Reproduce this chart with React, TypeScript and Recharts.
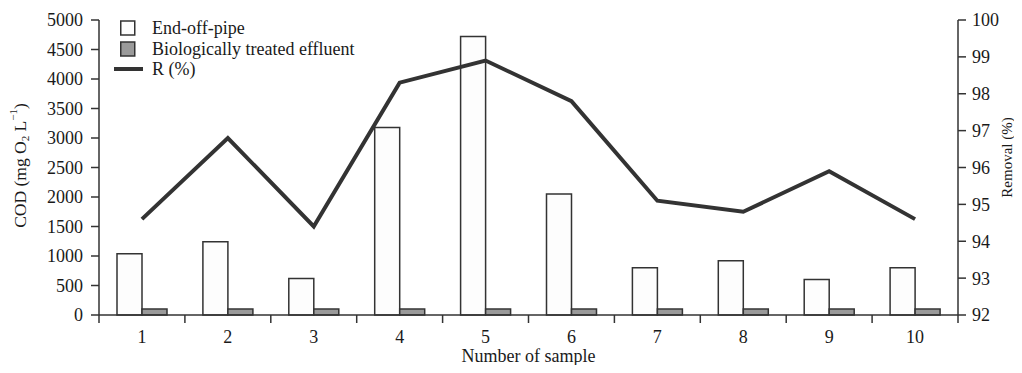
import React from 'react';
import { ComposedChart, Bar, Line, XAxis, YAxis, Legend } from 'recharts';

const categories = ['1', '2', '3', '4', '5', '6', '7', '8', '9', '10'];
const endOfPipe = [1040, 1240, 620, 3180, 4720, 2050, 800, 920, 600, 800];
const bioTreated = [100, 100, 100, 100, 100, 100, 100, 100, 100, 100];
const removal = [94.6, 96.8, 94.4, 98.3, 98.9, 97.8, 95.1, 94.8, 95.9, 94.6];
const codTicks = [0, 500, 1000, 1500, 2000, 2500, 3000, 3500, 4000, 4500, 5000];
const removalTicks = [92, 93, 94, 95, 96, 97, 98, 99, 100];

const data = categories.map((c, i) => ({
  sample: c,
  end: endOfPipe[i],
  bio: bioTreated[i],
  r: removal[i],
}));

// chart is pulled 8px left over the body margin so it can use the full window width
const W = 1022;
const H = 357;
const MARGIN = { top: 12, right: 0, bottom: 0, left: 29 };
const LEFT_W = 70;
const RIGHT_W = 64;
const plotWidth = W - MARGIN.left - MARGIN.right - LEFT_W - RIGHT_W;
const bandWidth = plotWidth / categories.length;

const FONT = '"Liberation Serif", "DejaVu Serif", serif';
const INK = '#333333';
const TEXT = '#1a1a1a';

// x tick: label under the band centre, tick marks on band boundaries
const SampleTick = (props: any) => {
  const { x, y, payload, index } = props;
  const last = index === categories.length - 1;
  return (
    <g>
      <line x1={x - bandWidth / 2} y1={y} x2={x - bandWidth / 2} y2={y + 8} stroke={INK} strokeWidth={1.5} />
      {last && (
        <line x1={x + bandWidth / 2} y1={y} x2={x + bandWidth / 2} y2={y + 8} stroke={INK} strokeWidth={1.5} />
      )}
      <text x={x} y={y + 22} dy="0.355em" textAnchor="middle" fontSize={18} fill={TEXT} fontFamily={FONT}>
        {payload.value}
      </text>
    </g>
  );
};

const CodLabel = (props: any) => {
  const vb = props.viewBox || { x: 29, y: 12, width: 70, height: 295 };
  const cx = vb.x - 9;
  const cy = vb.y + vb.height / 2 - 2;
  return (
    <text
      x={cx}
      y={cy}
      transform={`rotate(-90, ${cx}, ${cy})`}
      textAnchor="middle"
      dominantBaseline="central"
      fontSize={17.5}
      fill={TEXT}
      fontFamily={FONT}
    >
      COD (mg O<tspan fontSize={11} dy={5}>2</tspan>
      <tspan dy={-5}> L</tspan>
      <tspan fontSize={11} dy={-7}>−1</tspan>
      <tspan dy={7}>)</tspan>
    </text>
  );
};

const RemovalLabel = (props: any) => {
  const vb = props.viewBox || { x: 958, y: 12, width: 64, height: 295 };
  const cx = vb.x + 49;
  const cy = vb.y + vb.height / 2 - 10;
  return (
    <text
      x={cx}
      y={cy}
      transform={`rotate(-90, ${cx}, ${cy})`}
      textAnchor="middle"
      dominantBaseline="central"
      fontSize={15}
      fill={TEXT}
      fontFamily={FONT}
    >
      Removal (%)
    </text>
  );
};

const SampleLabel = (props: any) => {
  const vb = props.viewBox || { x: 99, y: 307, width: plotWidth, height: 50 };
  return (
    <text
      x={vb.x + vb.width / 2}
      y={vb.y + 47}
      textAnchor="middle"
      fontSize={18}
      fill={TEXT}
      fontFamily={FONT}
    >
      Number of sample
    </text>
  );
};

const legendItems = [
  { label: 'End-off-pipe', kind: 'box', fill: '#fdfdfd' },
  { label: 'Biologically treated effluent', kind: 'box', fill: '#9a9a9a' },
  { label: 'R (%)', kind: 'line', fill: INK },
];

const renderLegend = () => (
  <div style={{ fontFamily: FONT, fontSize: 18, color: TEXT }}>
    {legendItems.map((item) => (
      <div key={item.label} style={{ display: 'flex', alignItems: 'center', height: 20.5 }}>
        <svg width={38} height={20} style={{ display: 'block' }}>
          {item.kind === 'box' ? (
            <rect x={6.75} y={3} width={14} height={14} fill={item.fill} stroke={INK} strokeWidth={1.5} />
          ) : (
            <line x1={0} y1={10} x2={29} y2={10} stroke={INK} strokeWidth={4} />
          )}
        </svg>
        <span style={{ lineHeight: '20px', whiteSpace: 'nowrap' }}>{item.label}</span>
      </div>
    ))}
  </div>
);

export default function App() {
  return (
    <div style={{ marginLeft: -8, width: W, height: H }}>
      <ComposedChart width={W} height={H} data={data} margin={MARGIN} barGap={0}>
        <XAxis
          dataKey="sample"
          height={50}
          stroke={INK}
          strokeWidth={1.5}
          tickLine={false}
          tickSize={0}
          tickMargin={0}
          tick={<SampleTick />}
          label={SampleLabel}
          interval={0}
        />
        <YAxis
          yAxisId="cod"
          width={LEFT_W}
          domain={[0, 5000]}
          ticks={codTicks}
          interval={0}
          stroke={INK}
          strokeWidth={1.5}
          tickSize={8}
          tickMargin={8}
          tick={{ fontSize: 18, fill: TEXT, fontFamily: FONT }}
          label={CodLabel}
        />
        <YAxis
          yAxisId="r"
          orientation="right"
          width={RIGHT_W}
          domain={[92, 100]}
          ticks={removalTicks}
          interval={0}
          stroke={INK}
          strokeWidth={1.5}
          tickSize={8}
          tickMargin={6}
          tick={{ fontSize: 18, fill: TEXT, fontFamily: FONT }}
          label={RemovalLabel}
        />
        <Legend
          content={renderLegend}
          layout="vertical"
          verticalAlign="middle"
          align="center"
          wrapperStyle={{ top: 10, left: 114, width: 'auto' }}
        />
        <Bar yAxisId="cod" dataKey="end" name="End-off-pipe" barSize={25} fill="#fdfdfd" stroke={INK} strokeWidth={1.5} isAnimationActive={false} />
        <Bar yAxisId="cod" dataKey="bio" name="Biologically treated effluent" barSize={25} fill="#9a9a9a" stroke={INK} strokeWidth={1.5} isAnimationActive={false} />
        <Line yAxisId="r" type="linear" dataKey="r" name="R (%)" stroke={INK} strokeWidth={4} dot={false} activeDot={false} isAnimationActive={false} />
      </ComposedChart>
    </div>
  );
}
